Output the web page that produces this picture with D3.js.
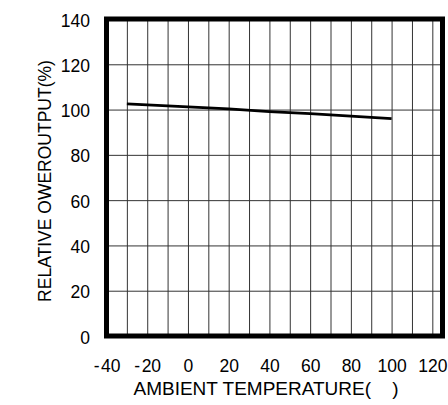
<!DOCTYPE html>
<html>
<head>
<meta charset="utf-8">
<script src="https://cdn.jsdelivr.net/npm/d3@7"></script>
<style>
  body { margin:0; background:#fff; }
  text { font-family: "Liberation Sans", Arial, sans-serif; fill:#000; }
</style>
</head>
<body>
<div id="chart"></div>
<script>
// data
var temps = [-30, 0, 20, 40, 60, 80, 100];
var outputs = [102.5, 101.2, 100.3, 99.1, 98.2, 97.1, 96.0];
var xTicks = [-40, -20, 0, 20, 40, 60, 80, 100, 120];
var xGrid = [-30, -20, -10, 0, 10, 20, 30, 40, 50, 60, 70, 80, 90, 100, 110, 120];
var yTicks = [0, 20, 40, 60, 80, 100, 120, 140];
var yGrid = [20, 40, 60, 80, 100, 120];

var svgWidth = 448, svgHeight = 405;
var pLeft = 106.5, pTop = 19, pRight = 442.5, pBottom = 336;

var svg = d3.select("#chart").append("svg")
  .attr("width", svgWidth)
  .attr("height", svgHeight);

var x = d3.scaleLinear().domain([-40, 125]).range([pLeft, pRight]);
var y = d3.scaleLinear().domain([0, 140]).range([pBottom, pTop]);

// grid lines
svg.append("g")
  .attr("transform", "translate(0," + pBottom + ")")
  .call(d3.axisBottom(x).tickValues(xGrid).tickSize(-(pBottom - pTop)).tickFormat(""))
  .call(function(g){ g.select(".domain").remove(); })
  .selectAll("line").attr("stroke", "#333").attr("stroke-width", 1);

svg.append("g")
  .attr("transform", "translate(" + pLeft + ",0)")
  .call(d3.axisLeft(y).tickValues(yGrid).tickSize(-(pRight - pLeft)).tickFormat(""))
  .call(function(g){ g.select(".domain").remove(); })
  .selectAll("line").attr("stroke", "#333").attr("stroke-width", 1);

// tick labels (plain hyphen, like the original)
var plain = function(d){ return d < 0 ? "-\u200a" + Math.abs(d) : String(d); };

var xAxis = svg.append("g")
  .attr("transform", "translate(0," + pBottom + ")")
  .call(d3.axisBottom(x).tickValues(xTicks).tickSize(0).tickPadding(24).tickFormat(plain));
xAxis.select(".domain").remove();
xAxis.selectAll("text").attr("font-size", "17.5px").attr("font-family", null);

var yAxis = svg.append("g")
  .attr("transform", "translate(" + pLeft + ",0)")
  .call(d3.axisLeft(y).tickValues(yTicks).tickSize(0).tickPadding(16.5).tickFormat(plain));
yAxis.select(".domain").remove();
yAxis.selectAll("text").attr("font-size", "17.5px").attr("font-family", null).attr("dy", "0.4em");

// the curve
var line = d3.line()
  .x(function(d, i){ return x(temps[i]); })
  .y(function(d){ return y(d); });

svg.append("path")
  .datum(outputs)
  .attr("d", line)
  .attr("fill", "none")
  .attr("stroke", "#000")
  .attr("stroke-width", 2.6);

// frame
svg.append("rect")
  .attr("x", pLeft).attr("y", pTop)
  .attr("width", pRight - pLeft).attr("height", pBottom - pTop)
  .attr("fill", "none")
  .attr("stroke", "#000")
  .attr("stroke-width", 5);

// axis titles
svg.append("text")
  .attr("x", 266).attr("y", 395)
  .attr("text-anchor", "middle")
  .attr("font-size", "19px")
  .text("AMBIENT TEMPERATURE(\u00a0\u00a0\u00a0\u00a0)");

svg.append("text")
  .attr("transform", "translate(51,181) rotate(-90)")
  .attr("text-anchor", "middle")
  .attr("font-size", "17.5px")
  .text("RELATIVE OWEROUTPUT(%)");
</script>
</body>
</html>
